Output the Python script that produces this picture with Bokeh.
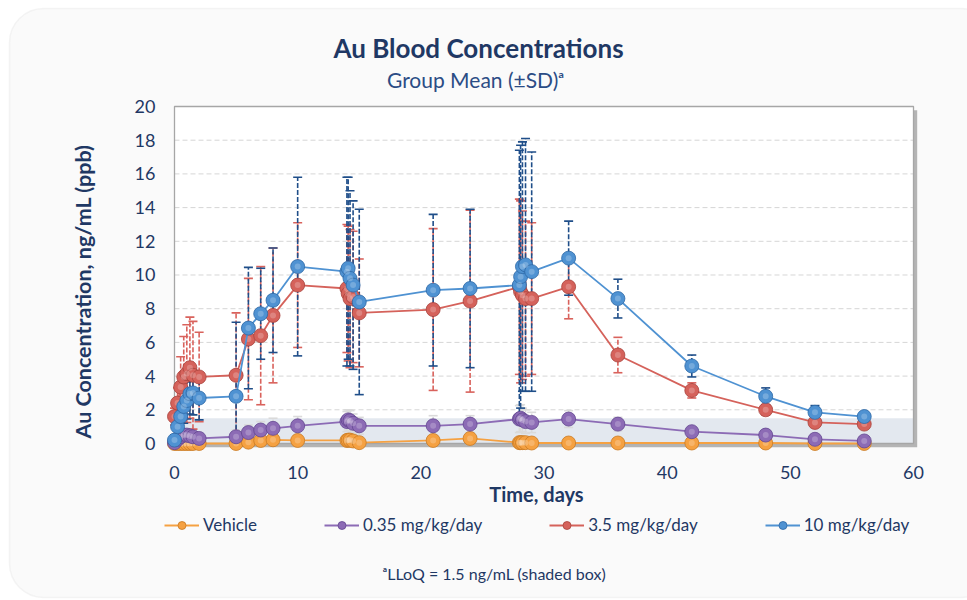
import math

from bokeh.plotting import figure
from bokeh.models import (ColumnDataSource, Range1d, BoxAnnotation, Label,
                          Legend, LegendItem)
from bokeh.core.properties import value
from bokeh.embed import file_html
from bokeh.resources import INLINE

# ---- data: sampling days, group means and SDs (ng/mL) ----
days = [0, 0.25, 0.5, 0.75, 1, 1.25, 1.5, 2, 5, 6, 7, 8, 10,
        14, 14.1, 14.25, 14.5, 15, 21, 24,
        28, 28.1, 28.25, 28.5, 29, 32, 36, 42, 48, 52, 56]

vehicle_mean = [0, 0, 0, 0, 0, 0, 0, 0, 0.0, 0.08, 0.18, 0.22, 0.18,
                0.18, 0.2, 0.2, 0.15, 0.05, 0.18, 0.3,
                0.05, 0.05, 0.05, 0.05, 0.03, 0.03, 0.03, 0.03, 0.03, 0.0, 0.0]
vehicle_sd = [0.05, 0.05, 0.05, 0.05, 0.05, 0.05, 0.05, 0.05, 0.1, 0.1, 0.1, 0.1, 0.1,
              0.1, 0.1, 0.1, 0.1, 0.1, 0.1, 0.1,
              0.1, 0.1, 0.1, 0.1, 0.1, 0.1, 0.1, 0.1, 0.1, 0.05, 0.05]

low_mean = [0.05, 0.25, 0.4, 0.5, 0.5, 0.45, 0.4, 0.3, 0.4, 0.65, 0.8, 0.9, 1.05,
            1.3, 1.4, 1.35, 1.2, 1.05, 1.05, 1.15,
            1.45, 1.5, 1.4, 1.3, 1.25, 1.45, 1.15, 0.7, 0.5, 0.25, 0.15]
low_sd = [0.05, 0.1, 0.2, 0.25, 0.3, 0.3, 0.3, 0.25, 0.4, 0.45, 0.5, 0.6, 0.55,
          0.6, 0.6, 0.6, 0.55, 0.5, 0.6, 0.5,
          0.8, 0.8, 0.7, 0.7, 0.6, 0.5, 0.4, 0.3, 0.2, 0.15, 0.1]

mid_mean = [1.6, 2.4, 3.35, 3.95, 4.15, 4.5, 4.05, 3.95, 4.05, 6.2, 6.4, 7.6, 9.4,
            9.2, 8.9, 8.6, 8.7, 7.75, 7.95, 8.45,
            9.3, 9.0, 8.8, 8.6, 8.6, 9.3, 5.25, 3.15, 2.0, 1.25, 1.15]
mid_sd = [0.5, 0.9, 1.8, 2.4, 2.9, 3.0, 3.2, 2.65, 3.7, 3.6, 4.1, 4.0, 3.7,
          3.8, 4.0, 4.1, 3.9, 3.2, 4.8, 5.4,
          5.2, 5.4, 5.0, 4.6, 4.5, 1.9, 1.05, 0.45, 0.3, 0.2, 0.15]

high_mean = [0.2, 1.0, 1.6, 2.2, 2.55, 2.95, 3.0, 2.7, 2.8, 6.85, 7.7, 8.5, 10.5,
             10.2, 10.4, 9.8, 9.4, 8.4, 9.1, 9.2,
             9.4, 9.9, 10.5, 10.6, 10.2, 11.0, 8.6, 4.6, 2.8, 1.85, 1.6]
high_sd = [0.3, 0.6, 0.8, 1.0, 1.1, 1.2, 1.3, 1.3, 4.4, 3.6, 2.7, 3.1, 5.3,
           5.6, 5.4, 5.2, 5.0, 5.5, 4.5, 4.7,
           8.0, 7.8, 7.4, 7.5, 7.1, 2.2, 1.15, 0.65, 0.5, 0.4, 0.2]

group_labels = ["Vehicle", "0.35 mg/kg/day", "3.5 mg/kg/day", "10 mg/kg/day"]
x_ticks = [0, 10, 20, 30, 40, 50, 60]
y_ticks = [0, 2, 4, 6, 8, 10, 12, 14, 16, 18, 20]
LLOQ = 1.5

# ---- styling ----
FONT = "Lato"
NAVY = "#1F3864"
W, H = 967, 600

# The frame fills the whole page; the plotted box (0..60 days, 0..20 ppb)
# sits inside it, so axis texts, legend and titles are drawn on the frame.
p = figure(width=W, height=H, output_backend="svg", toolbar_location=None,
           x_range=Range1d(-14.127, 64.384), y_range=Range1d(-9.318, 26.291),
           min_border=0, background_fill_color="white",
           border_fill_color="white", outline_line_color=None)
p.xaxis.visible = False
p.yaxis.visible = False
p.xgrid.visible = False
p.ygrid.visible = False

# rounded grey card
p.add_layout(BoxAnnotation(left=9, right=995, top=8, bottom=597,
                           left_units="canvas", right_units="canvas",
                           top_units="canvas", bottom_units="canvas",
                           fill_color="#F3F3F3", line_color="#DEDEDE",
                           line_width=1.5, border_radius=34, level="image"))

x0, x1 = x_ticks[0], x_ticks[-1]
y0, y1 = y_ticks[0], y_ticks[-1]

# plot box: drop shadow, white face, LLoQ band, gridlines, outline
p.quad(left=[x0 + 0.3], right=[x1 + 0.3], bottom=[y0 - 0.22], top=[y1 - 0.22],
       fill_color="#B4B4B4", line_color=None, level="underlay")
p.quad(left=[x0], right=[x1], bottom=[y0], top=[y1],
       fill_color="white", line_color=None, level="underlay")
p.quad(left=[x0], right=[x1], bottom=[y0], top=[LLOQ],
       fill_color="#E3E8EF", line_color=None, level="underlay")
grid_vals = y_ticks[1:-1]
p.segment(x0=[x0] * len(grid_vals), y0=grid_vals,
          x1=[x1] * len(grid_vals), y1=grid_vals,
          line_color="#D6D6D6", line_width=1, line_dash="5 3", level="underlay")
p.quad(left=[x0], right=[x1], bottom=[y0], top=[y1],
       fill_color=None, line_color="#A6A6A6", line_width=1.3, level="underlay")

# tick labels
p.text(x=x_ticks, y=[y0 - 1.72] * len(x_ticks), text=[str(t) for t in x_ticks],
       text_font=value(FONT), text_font_size=value("18px"), text_color=NAVY,
       text_align="center", text_baseline="middle")
p.text(x=[x0 - 1.55] * len(y_ticks), y=y_ticks, text=[str(t) for t in y_ticks],
       text_font=value(FONT), text_font_size=value("18px"), text_color=NAVY,
       text_align="right", text_baseline="middle")

# ---- series ----
series = [
    (group_labels[0], vehicle_mean, vehicle_sd, "#F5A142", "#C97A22", "#E8E8E8"),
    (group_labels[1], low_mean, low_sd, "#8C6BB5", "#634690", "#DADADA"),
    (group_labels[2], mid_mean, mid_sd, "#D5625B", "#A8423C", "#D9625C"),
    (group_labels[3], high_mean, high_sd, "#4F92D2", "#2D68A6", "#1F4E89"),
]

sources = []
for name, mean, sd, base, dark, err in series:
    sources.append(ColumnDataSource(dict(
        day=days, mean=mean,
        lo=[max(m - s, y0) for m, s in zip(mean, sd)],
        hi=[m + s for m, s in zip(mean, sd)],
    )))

# error bars beneath lines and markers
for (name, mean, sd, base, dark, err), src in zip(series, sources):
    p.segment(x0="day", y0="lo", x1="day", y1="hi", source=src,
              line_color=err, line_width=1.6, line_dash="5 2")
    p.scatter(x="day", y="hi", source=src, marker="dash", size=9,
              line_color=err, line_width=1.6)
    p.scatter(x="day", y="lo", source=src, marker="dash", size=9,
              line_color=err, line_width=1.6)

legend_items = []
for (name, mean, sd, base, dark, err), src in zip(series, sources):
    ln = p.line(x="day", y="mean", source=src, line_color=base, line_width=1.8)
    mk = p.scatter(x="day", y="mean", source=src, size=14, fill_color=base,
                   line_color=dark, line_width=0.8)
    p.scatter(x="day", y="mean", source=src, size=6, fill_color="white",
              fill_alpha=0.22, line_color=None)
    legend_items.append(LegendItem(label=name, renderers=[ln, mk]))

legend = Legend(items=legend_items, orientation="horizontal", location=(164, 65),
                spacing=67, glyph_width=35, glyph_height=20, label_standoff=4,
                padding=0, margin=0, border_line_color=None,
                background_fill_alpha=0, label_text_font=FONT,
                label_text_font_size="17px", label_text_color=NAVY)
p.add_layout(legend, "center")


# ---- texts (canvas pixels, measured from the top-left) ----
def canvas_label(x, y, text, size, bold=False, color=NAVY, angle=0.0):
    p.add_layout(Label(x=x, y=y, x_units="canvas", y_units="canvas",
                       text=text, angle=angle, text_font=FONT,
                       text_font_size=size,
                       text_font_style="bold" if bold else "normal",
                       text_color=color, text_align="center",
                       text_baseline="middle"))


canvas_label(478, 47, "Au Blood Concentrations", "26px", bold=True)
canvas_label(475, 79, "Group Mean (\u00b1SD)\u1d43", "21px", color="#2B4C85")
canvas_label(82, 291, "Au Concentration, ng/mL (ppb)", "21.5px", bold=True,
             angle=math.pi / 2)
canvas_label(536, 493, "Time, days", "20px", bold=True)
canvas_label(494, 573, f"\u1d43LLoQ = {LLOQ} ng/mL (shaded box)", "16px")

open("out.html", "w").write(file_html(p, INLINE))
